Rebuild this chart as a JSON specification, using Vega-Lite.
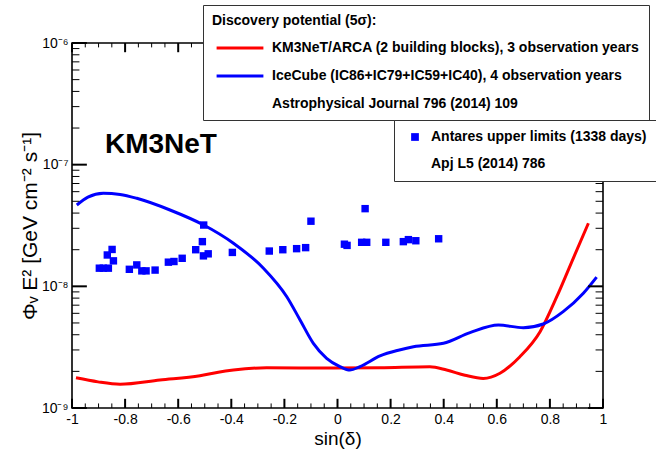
{
  "$schema": "https://vega.github.io/schema/vega-lite/v6.json",
  "width": 531,
  "height": 365,
  "autosize": {"type": "none"},
  "padding": {"left": 72, "top": 43, "right": 53, "bottom": 47},
  "background": "white",
  "config": {
    "view": {"stroke": "black", "strokeWidth": 1.6},
    "font": "Liberation Sans",
    "axis": {
      "grid": false,
      "domain": false,
      "ticks": false,
      "labelColor": "black",
      "titleColor": "black",
      "labelFont": "Liberation Sans",
      "titleFont": "Liberation Sans",
      "titleFontWeight": "normal",
      "labelFontSize": 14,
      "titleFontSize": 19
    },
    "legend": {
      "labelFont": "Liberation Sans",
      "titleFont": "Liberation Sans",
      "labelFontSize": 14,
      "labelFontWeight": "bold",
      "labelColor": "black",
      "titleColor": "black",
      "labelLimit": 600,
      "strokeColor": "#333333",
      "fillColor": "white"
    }
  },
  "datasets": {
    "km3net": [
      {"series": "KM3NeT/ARCA (2 building blocks), 3 observation years", "x": -0.985, "y": 1.77e-9},
      {"series": "KM3NeT/ARCA (2 building blocks), 3 observation years", "x": -0.902, "y": 1.64e-9},
      {"series": "KM3NeT/ARCA (2 building blocks), 3 observation years", "x": -0.819, "y": 1.57e-9},
      {"series": "KM3NeT/ARCA (2 building blocks), 3 observation years", "x": -0.669, "y": 1.70e-9},
      {"series": "KM3NeT/ARCA (2 building blocks), 3 observation years", "x": -0.518, "y": 1.84e-9},
      {"series": "KM3NeT/ARCA (2 building blocks), 3 observation years", "x": -0.449, "y": 1.97e-9},
      {"series": "KM3NeT/ARCA (2 building blocks), 3 observation years", "x": -0.392, "y": 2.05e-9},
      {"series": "KM3NeT/ARCA (2 building blocks), 3 observation years", "x": -0.267, "y": 2.14e-9},
      {"series": "KM3NeT/ARCA (2 building blocks), 3 observation years", "x": -0.016, "y": 2.13e-9},
      {"series": "KM3NeT/ARCA (2 building blocks), 3 observation years", "x": 0.160, "y": 2.14e-9},
      {"series": "KM3NeT/ARCA (2 building blocks), 3 observation years", "x": 0.348, "y": 2.18e-9},
      {"series": "KM3NeT/ARCA (2 building blocks), 3 observation years", "x": 0.411, "y": 2.05e-9},
      {"series": "KM3NeT/ARCA (2 building blocks), 3 observation years", "x": 0.480, "y": 1.86e-9},
      {"series": "KM3NeT/ARCA (2 building blocks), 3 observation years", "x": 0.549, "y": 1.75e-9},
      {"series": "KM3NeT/ARCA (2 building blocks), 3 observation years", "x": 0.612, "y": 1.93e-9},
      {"series": "KM3NeT/ARCA (2 building blocks), 3 observation years", "x": 0.687, "y": 2.64e-9},
      {"series": "KM3NeT/ARCA (2 building blocks), 3 observation years", "x": 0.763, "y": 4.24e-9},
      {"series": "KM3NeT/ARCA (2 building blocks), 3 observation years", "x": 0.826, "y": 8.22e-9},
      {"series": "KM3NeT/ARCA (2 building blocks), 3 observation years", "x": 0.888, "y": 1.70e-8},
      {"series": "KM3NeT/ARCA (2 building blocks), 3 observation years", "x": 0.945, "y": 3.30e-8}
    ],
    "icecube": [
      {"series": "IceCube (IC86+IC79+IC59+IC40), 4 observation years", "x": -0.982, "y": 4.66e-8},
      {"series": "IceCube (IC86+IC79+IC59+IC40), 4 observation years", "x": -0.940, "y": 5.42e-8},
      {"series": "IceCube (IC86+IC79+IC59+IC40), 4 observation years", "x": -0.882, "y": 5.82e-8},
      {"series": "IceCube (IC86+IC79+IC59+IC40), 4 observation years", "x": -0.819, "y": 5.69e-8},
      {"series": "IceCube (IC86+IC79+IC59+IC40), 4 observation years", "x": -0.756, "y": 5.29e-8},
      {"series": "IceCube (IC86+IC79+IC59+IC40), 4 observation years", "x": -0.631, "y": 4.24e-8},
      {"series": "IceCube (IC86+IC79+IC59+IC40), 4 observation years", "x": -0.504, "y": 3.19e-8},
      {"series": "IceCube (IC86+IC79+IC59+IC40), 4 observation years", "x": -0.392, "y": 2.26e-8},
      {"series": "IceCube (IC86+IC79+IC59+IC40), 4 observation years", "x": -0.279, "y": 1.41e-8},
      {"series": "IceCube (IC86+IC79+IC59+IC40), 4 observation years", "x": -0.191, "y": 8.22e-9},
      {"series": "IceCube (IC86+IC79+IC59+IC40), 4 observation years", "x": -0.141, "y": 5.29e-9},
      {"series": "IceCube (IC86+IC79+IC59+IC40), 4 observation years", "x": -0.091, "y": 3.40e-9},
      {"series": "IceCube (IC86+IC79+IC59+IC40), 4 observation years", "x": -0.041, "y": 2.56e-9},
      {"series": "IceCube (IC86+IC79+IC59+IC40), 4 observation years", "x": 0.009, "y": 2.19e-9},
      {"series": "IceCube (IC86+IC79+IC59+IC40), 4 observation years", "x": 0.047, "y": 2.05e-9},
      {"series": "IceCube (IC86+IC79+IC59+IC40), 4 observation years", "x": 0.085, "y": 2.19e-9},
      {"series": "IceCube (IC86+IC79+IC59+IC40), 4 observation years", "x": 0.160, "y": 2.68e-9},
      {"series": "IceCube (IC86+IC79+IC59+IC40), 4 observation years", "x": 0.233, "y": 3.00e-9},
      {"series": "IceCube (IC86+IC79+IC59+IC40), 4 observation years", "x": 0.286, "y": 3.19e-9},
      {"series": "IceCube (IC86+IC79+IC59+IC40), 4 observation years", "x": 0.399, "y": 3.40e-9},
      {"series": "IceCube (IC86+IC79+IC59+IC40), 4 observation years", "x": 0.499, "y": 4.16e-9},
      {"series": "IceCube (IC86+IC79+IC59+IC40), 4 observation years", "x": 0.606, "y": 4.81e-9},
      {"series": "IceCube (IC86+IC79+IC59+IC40), 4 observation years", "x": 0.700, "y": 4.57e-9},
      {"series": "IceCube (IC86+IC79+IC59+IC40), 4 observation years", "x": 0.775, "y": 4.90e-9},
      {"series": "IceCube (IC86+IC79+IC59+IC40), 4 observation years", "x": 0.850, "y": 6.19e-9},
      {"series": "IceCube (IC86+IC79+IC59+IC40), 4 observation years", "x": 0.926, "y": 8.77e-9},
      {"series": "IceCube (IC86+IC79+IC59+IC40), 4 observation years", "x": 0.976, "y": 1.19e-8}
    ],
    "antares": [
      {"src": "Antares upper limits (1338 days)", "x": -0.897, "y": 1.41e-8},
      {"src": "Antares upper limits (1338 days)", "x": -0.882, "y": 1.41e-8},
      {"src": "Antares upper limits (1338 days)", "x": -0.863, "y": 1.41e-8},
      {"src": "Antares upper limits (1338 days)", "x": -0.867, "y": 1.81e-8},
      {"src": "Antares upper limits (1338 days)", "x": -0.849, "y": 2.01e-8},
      {"src": "Antares upper limits (1338 days)", "x": -0.844, "y": 1.62e-8},
      {"src": "Antares upper limits (1338 days)", "x": -0.784, "y": 1.38e-8},
      {"src": "Antares upper limits (1338 days)", "x": -0.756, "y": 1.50e-8},
      {"src": "Antares upper limits (1338 days)", "x": -0.737, "y": 1.34e-8},
      {"src": "Antares upper limits (1338 days)", "x": -0.721, "y": 1.34e-8},
      {"src": "Antares upper limits (1338 days)", "x": -0.687, "y": 1.36e-8},
      {"src": "Antares upper limits (1338 days)", "x": -0.637, "y": 1.58e-8},
      {"src": "Antares upper limits (1338 days)", "x": -0.616, "y": 1.60e-8},
      {"src": "Antares upper limits (1338 days)", "x": -0.585, "y": 1.70e-8},
      {"src": "Antares upper limits (1338 days)", "x": -0.534, "y": 2.00e-8},
      {"src": "Antares upper limits (1338 days)", "x": -0.509, "y": 2.33e-8},
      {"src": "Antares upper limits (1338 days)", "x": -0.504, "y": 3.19e-8},
      {"src": "Antares upper limits (1338 days)", "x": -0.505, "y": 1.78e-8},
      {"src": "Antares upper limits (1338 days)", "x": -0.487, "y": 1.85e-8},
      {"src": "Antares upper limits (1338 days)", "x": -0.396, "y": 1.90e-8},
      {"src": "Antares upper limits (1338 days)", "x": -0.257, "y": 1.95e-8},
      {"src": "Antares upper limits (1338 days)", "x": -0.206, "y": 2.00e-8},
      {"src": "Antares upper limits (1338 days)", "x": -0.154, "y": 2.04e-8},
      {"src": "Antares upper limits (1338 days)", "x": -0.120, "y": 2.08e-8},
      {"src": "Antares upper limits (1338 days)", "x": -0.100, "y": 3.43e-8},
      {"src": "Antares upper limits (1338 days)", "x": 0.026, "y": 2.22e-8},
      {"src": "Antares upper limits (1338 days)", "x": 0.036, "y": 2.17e-8},
      {"src": "Antares upper limits (1338 days)", "x": 0.091, "y": 2.30e-8},
      {"src": "Antares upper limits (1338 days)", "x": 0.110, "y": 2.30e-8},
      {"src": "Antares upper limits (1338 days)", "x": 0.104, "y": 4.35e-8},
      {"src": "Antares upper limits (1338 days)", "x": 0.182, "y": 2.30e-8},
      {"src": "Antares upper limits (1338 days)", "x": 0.248, "y": 2.33e-8},
      {"src": "Antares upper limits (1338 days)", "x": 0.267, "y": 2.42e-8},
      {"src": "Antares upper limits (1338 days)", "x": 0.295, "y": 2.37e-8},
      {"src": "Antares upper limits (1338 days)", "x": 0.381, "y": 2.46e-8}
    ],
    "label": [
      {"x": -0.876, "y": 1.25e-7, "text": "KM3NeT"}
    ],
    "xmajor": [
      {"v": -1}, {"v": -0.8}, {"v": -0.6}, {"v": -0.4}, {"v": -0.2}, {"v": 0},
      {"v": 0.2}, {"v": 0.4}, {"v": 0.6}, {"v": 0.8}, {"v": 1}
    ],
    "xminor": [
      {"v": -0.95}, {"v": -0.9}, {"v": -0.85}, {"v": -0.75}, {"v": -0.7}, {"v": -0.65},
      {"v": -0.55}, {"v": -0.5}, {"v": -0.45}, {"v": -0.35}, {"v": -0.3}, {"v": -0.25},
      {"v": -0.15}, {"v": -0.1}, {"v": -0.05}, {"v": 0.05}, {"v": 0.1}, {"v": 0.15},
      {"v": 0.25}, {"v": 0.3}, {"v": 0.35}, {"v": 0.45}, {"v": 0.5}, {"v": 0.55},
      {"v": 0.65}, {"v": 0.7}, {"v": 0.75}, {"v": 0.85}, {"v": 0.9}, {"v": 0.95}
    ],
    "ymajor": [
      {"v": 1e-9}, {"v": 1e-8}, {"v": 1e-7}, {"v": 1e-6}
    ],
    "yminor": [
      {"v": 2e-9}, {"v": 3e-9}, {"v": 4e-9}, {"v": 5e-9}, {"v": 6e-9}, {"v": 7e-9}, {"v": 8e-9}, {"v": 9e-9},
      {"v": 2e-8}, {"v": 3e-8}, {"v": 4e-8}, {"v": 5e-8}, {"v": 6e-8}, {"v": 7e-8}, {"v": 8e-8}, {"v": 9e-8},
      {"v": 2e-7}, {"v": 3e-7}, {"v": 4e-7}, {"v": 5e-7}, {"v": 6e-7}, {"v": 7e-7}, {"v": 8e-7}, {"v": 9e-7}
    ]
  },
  "layer": [
    {
      "data": {"name": "km3net"},
      "mark": {"type": "line", "strokeWidth": 3, "interpolate": "monotone", "clip": true},
      "encoding": {
        "x": {
          "field": "x", "type": "quantitative",
          "scale": {"domain": [-1, 1], "nice": false, "zero": false},
          "axis": {
            "orient": "bottom",
            "values": [-1, -0.8, -0.6, -0.4, -0.2, 0, 0.2, 0.4, 0.6, 0.8, 1],
            "labelPadding": 4,
            "labelExpr": "datum.value == 0 ? '0' : (datum.value < 0 ? '-' : '') + format(abs(datum.value), '~g')",
            "labelFlush": false,
            "labelOverlap": false,
            "title": "sin(δ)",
            "titlePadding": 3
          }
        },
        "y": {
          "field": "y", "type": "quantitative",
          "scale": {"type": "log", "domain": [1e-9, 1e-6], "nice": false, "zero": false},
          "axis": {
            "orient": "left",
            "values": [1e-9, 1e-8, 1e-7, 1e-6],
            "labelPadding": 4,
            "labelExpr": "datum.value > 5e-7 ? '10⁻⁶' : datum.value > 5e-8 ? '10⁻⁷' : datum.value > 5e-9 ? '10⁻⁸' : '10⁻⁹'",
            "labelFlush": false,
            "labelOverlap": false,
            "title": "Φᵥ E² [GeV cm⁻² s⁻¹]",
            "titleFontSize": 21,
            "titlePadding": 1
          }
        },
        "stroke": {
          "field": "series", "type": "nominal",
          "scale": {
            "domain": ["KM3NeT/ARCA (2 building blocks), 3 observation years", "IceCube (IC86+IC79+IC59+IC40), 4 observation years", "Astrophysical Journal 796 (2014) 109"],
            "range": ["#ff0000", "#0000ff", "transparent"]
          },
          "legend": {
            "orient": "none",
            "legendX": 131,
            "legendY": -38,
            "title": "Discovery potential (5σ):",
            "titleFontSize": 14,
            "titleFontWeight": "bold",
            "titlePadding": -1,
            "symbolType": "M-1.2,0H1.2",
            "symbolSize": 1521,
            "symbolStrokeWidth": 3,
            "symbolOffset": 7,
            "labelOffset": 11,
            "rowPadding": 0,
            "padding": 9
          }
        }
      }
    },
    {
      "data": {"name": "icecube"},
      "mark": {"type": "line", "strokeWidth": 3, "interpolate": "monotone", "clip": true},
      "encoding": {
        "x": {"field": "x", "type": "quantitative"},
        "y": {"field": "y", "type": "quantitative"},
        "stroke": {"field": "series", "type": "nominal"}
      }
    },
    {
      "data": {"name": "antares"},
      "mark": {"type": "square", "size": 55, "filled": true, "opacity": 1},
      "encoding": {
        "x": {"field": "x", "type": "quantitative"},
        "y": {"field": "y", "type": "quantitative"},
        "fill": {
          "field": "src", "type": "nominal",
          "scale": {
            "domain": ["Antares upper limits (1338 days)", "Apj L5 (2014) 786"],
            "range": ["#0000ff", "transparent"]
          },
          "legend": {
            "orient": "none",
            "legendX": 322,
            "legendY": 77,
            "title": null,
            "symbolType": "square",
            "symbolSize": 60,
            "symbolOffset": 4,
            "labelOffset": 9,
            "rowPadding": 13,
            "padding": 10
          }
        }
      }
    },
    {
      "data": {"name": "label"},
      "mark": {"type": "text", "align": "left", "baseline": "alphabetic", "fontSize": 28, "fontWeight": "bold", "font": "Liberation Sans", "color": "black"},
      "encoding": {
        "x": {"field": "x", "type": "quantitative"},
        "y": {"field": "y", "type": "quantitative"},
        "text": {"field": "text", "type": "nominal"}
      }
    },
    {
      "data": {"name": "xmajor"},
      "mark": {"type": "rule", "color": "#000000", "strokeWidth": 2, "opacity": 1},
      "encoding": {
        "x": {"field": "v", "type": "quantitative"},
        "y": {"datum": 1e-9, "type": "quantitative"},
        "y2": {"datum": 1.19e-9}
      }
    },
    {
      "data": {"name": "xmajor"},
      "mark": {"type": "rule", "color": "#000000", "strokeWidth": 2, "opacity": 1},
      "encoding": {
        "x": {"field": "v", "type": "quantitative"},
        "y": {"datum": 8.4e-7, "type": "quantitative"},
        "y2": {"datum": 1e-6}
      }
    },
    {
      "data": {"name": "xminor"},
      "mark": {"type": "rule", "color": "#000000", "strokeWidth": 1, "opacity": 1},
      "encoding": {
        "x": {"field": "v", "type": "quantitative"},
        "y": {"datum": 1e-9, "type": "quantitative"},
        "y2": {"datum": 1.09e-9}
      }
    },
    {
      "data": {"name": "xminor"},
      "mark": {"type": "rule", "color": "#000000", "strokeWidth": 1, "opacity": 1},
      "encoding": {
        "x": {"field": "v", "type": "quantitative"},
        "y": {"datum": 9.2e-7, "type": "quantitative"},
        "y2": {"datum": 1e-6}
      }
    },
    {
      "data": {"name": "ymajor"},
      "mark": {"type": "rule", "color": "#000000", "strokeWidth": 2, "opacity": 1},
      "encoding": {
        "y": {"field": "v", "type": "quantitative"},
        "x": {"datum": -1, "type": "quantitative"},
        "x2": {"datum": -0.944}
      }
    },
    {
      "data": {"name": "ymajor"},
      "mark": {"type": "rule", "color": "#000000", "strokeWidth": 2, "opacity": 1},
      "encoding": {
        "y": {"field": "v", "type": "quantitative"},
        "x": {"datum": 0.944, "type": "quantitative"},
        "x2": {"datum": 1}
      }
    },
    {
      "data": {"name": "yminor"},
      "mark": {"type": "rule", "color": "#000000", "strokeWidth": 1, "opacity": 1},
      "encoding": {
        "y": {"field": "v", "type": "quantitative"},
        "x": {"datum": -1, "type": "quantitative"},
        "x2": {"datum": -0.972}
      }
    },
    {
      "data": {"name": "yminor"},
      "mark": {"type": "rule", "color": "#000000", "strokeWidth": 1, "opacity": 1},
      "encoding": {
        "y": {"field": "v", "type": "quantitative"},
        "x": {"datum": 0.972, "type": "quantitative"},
        "x2": {"datum": 1}
      }
    }
  ]
}
